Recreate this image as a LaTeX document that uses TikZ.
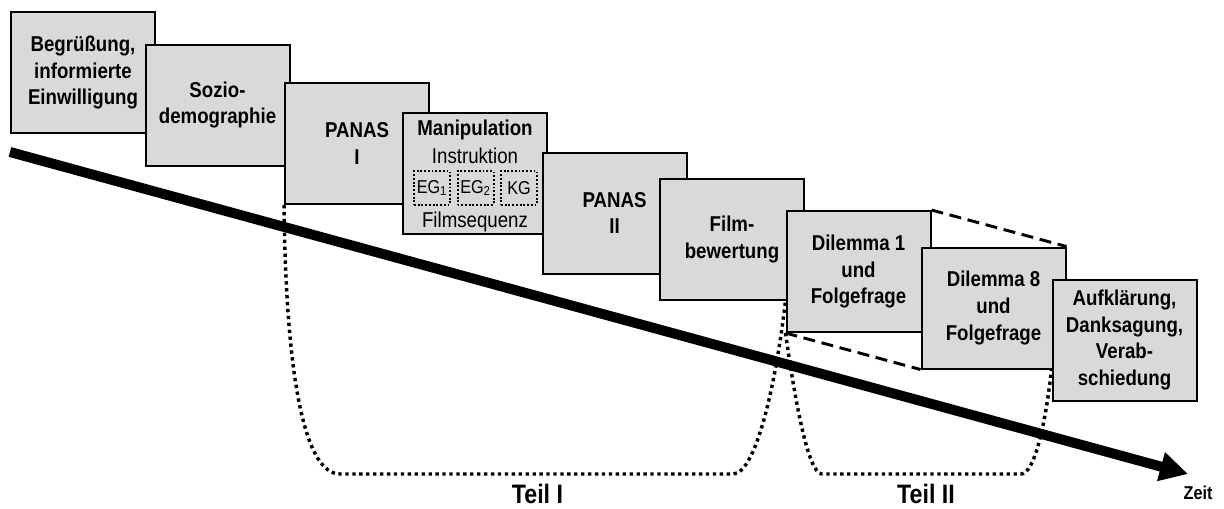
\documentclass[tikz,border=0pt]{standalone}
\usepackage{fontspec}
\setmainfont{Liberation Sans}[FakeStretch=0.87]
\usetikzlibrary{arrows.meta}
\definecolor{boxgray}{HTML}{D9D9D9}
\tikzset{
  stage/.style={draw=black, line width=1.5pt, fill=boxgray,
    minimum width=108pt, minimum height=90.75pt, inner sep=0pt, align=center,
    font=\fontsize{16.1}{20}\selectfont\bfseries},
  group/.style={draw=black, line width=2.6pt, dash pattern=on 2.5pt off 2.7pt},
  subgroup/.style={draw=black, line width=1.5pt, dash pattern=on 1.4pt off 1.4pt,
    minimum width=27pt, minimum height=25pt, inner sep=0pt,
    font=\fontsize{14}{16}\selectfont},
  plain/.style={inner sep=0pt, anchor=base, font=\fontsize{16.1}{19}\selectfont},
  zoomline/.style={draw=black, line width=2.2pt, dash pattern=on 9pt off 5pt},
  timeline/.style={draw=black, line width=7.5pt,
    -{Triangle[length=21pt,width=21pt]}},
  partlabel/.style={inner sep=0pt, anchor=base, font=\fontsize{20}{22}\selectfont\bfseries},
}
\begin{document}
\begin{tikzpicture}[x=0.75pt, y=-0.75pt]
\useasboundingbox (0,0) rectangle (1224,508);

% time axis
\coordinate (t0) at (10,152);
\coordinate (t1) at (1188,474);
\draw[timeline] (t0) -- (t1);
\node[inner sep=0pt, anchor=base, font=\fontsize{14}{16}\selectfont\bfseries] (zeit) at (1198,499) {Zeit};

% stages, each one laid over the previous
\node[stage] (s1) at (83,72.5) {Begrüßung,\\informierte\\Einwilligung};
\node[stage] (s2) at (217.5,105) {Sozio-\\demographie};
\node[stage] (s3) at (357,143.5) {PANAS\\I};
\node[stage] (s4) at (475,173.5) {};
\node[plain, font=\fontsize{16.1}{19}\selectfont\bfseries] (s4a) at (475,135) {Manipulation};
\node[plain] (s4b) at (475,163) {Instruktion};
\node[subgroup] (eg1) at (432,188) {EG\textsubscript{1}};
\node[subgroup] (eg2) at (475.5,188) {EG\textsubscript{2}};
\node[subgroup] (kg) at (519,188) {KG};
\node[plain] (s4c) at (475,227) {Filmsequenz};
\node[stage] (s5) at (614.5,213) {PANAS\\II};
\node[stage] (s6) at (732,239.5) {Film-\\bewertung};
\node[stage] (s7) at (858.5,271.5) {Dilemma 1\\und\\Folgefrage};
\node[stage] (s8) at (993.5,308) {Dilemma 8\\und\\Folgefrage};
\node[stage] (s9) at (1124.5,340) {Aufklärung,\\Danksagung,\\Verab-\\schiedung};

% the dilemma block in between
\draw[zoomline] (s7.north east) -- (s8.north east);
\draw[zoomline] (s7.south west) -- (s8.south west);

% part brackets
\coordinate (p1r) at (s7.west |- s6.south);
\coordinate (p1a) at (340,474);
\coordinate (p1b) at (733,474);
\draw[group] (s3.south west) .. controls (286,380) and (305,474) .. (p1a)
  -- (p1b) .. controls (755,474) and (775,390) .. (p1r);
\node[partlabel] (teil1) at (537.5,503) {Teil I};

\coordinate (p2r) at (s9.west |- s8.south);
\coordinate (p2a) at (822,474);
\coordinate (p2b) at (1021,474);
\draw[group] (s7.south west) .. controls (795,400) and (808,474) .. (p2a)
  -- (p2b) .. controls (1035,474) and (1046,420) .. (p2r);
\node[partlabel] (teil2) at (926,503) {Teil II};
\end{tikzpicture}
\end{document}
